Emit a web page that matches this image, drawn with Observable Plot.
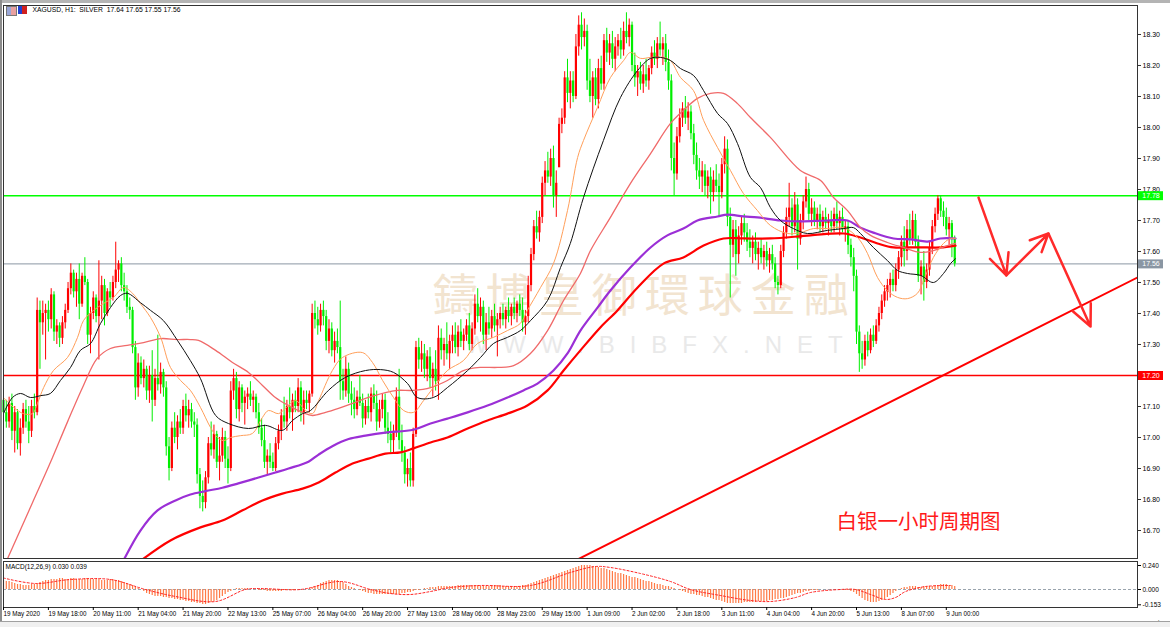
<!DOCTYPE html>
<html><head><meta charset="utf-8">
<script src="https://cdn.jsdelivr.net/npm/d3@7"></script>
<script src="https://cdn.jsdelivr.net/npm/@observablehq/plot@0.6"></script>
<style>
html,body{margin:0;padding:0;background:#fff}
#wrap{position:relative;width:1170px;height:627px;overflow:hidden;background:#fff;font-family:"Liberation Sans",Arial,sans-serif}
#main,#sub{position:absolute;left:0}
#main{top:0}
#sub{top:558px}
#topbar{position:absolute;left:0;top:0;width:1170px;height:3px;background:#b4b4b4}
#leftbar{position:absolute;left:0;top:0;width:2px;height:621px;background:#8c8c8c}
#tabs{position:absolute;left:0;top:621px;width:1170px;height:6px;background:#f0f0f0;border-top:1px solid #a0a0a0;box-sizing:border-box}
#ico1{position:absolute;left:6px;top:6px;width:9px;height:8px;background:linear-gradient(90deg,#9aa7d8 50%,#e9a0a0 50%);border:1px solid #777}
#ico2{position:absolute;left:18px;top:6px;width:9px;height:8px;background:linear-gradient(90deg,#2040d0 50%,#d02020 50%)}
</style></head>
<body><div id="wrap"><div id="main"></div><div id="sub"></div><div id="topbar"></div><div id="leftbar"></div><div id="tabs"></div><div id="ico1"></div><div id="ico2"></div></div>
<script>
// ---------- DATA ----------
const title = "XAGUSD, H1:  SILVER  17.64 17.65 17.55 17.56";
const macdTitle = "MACD(12,26,9) 0.030 0.039";
// hourly candles, cents: [open, high, low, close]
const candles = [
[1712,1716,1705,1708],[1708,1712,1703,1705],[1705,1713,1703,1711],[1711,1714,1699,1702],[1702,1710,1695,1708],
[1708,1709,1696,1698],[1698,1706,1694,1703],[1703,1711,1701,1709],[1709,1712,1703,1705],[1705,1710,1698,1702],
[1702,1712,1700,1710],[1710,1714,1706,1708],[1708,1745,1707,1741],[1741,1744,1722,1737],[1737,1744,1733,1740],
[1740,1743,1725,1741],[1741,1744,1734,1738],[1738,1748,1735,1746],[1746,1747,1731,1734],[1734,1738,1730,1736],
[1736,1737,1729,1732],[1732,1739,1730,1737],[1737,1743,1735,1741],[1741,1750,1740,1748],[1748,1756,1746,1753],
[1753,1754,1745,1747],[1747,1753,1742,1751],[1751,1756,1738,1743],[1743,1753,1742,1752],[1752,1758,1749,1750],
[1750,1751,1730,1733],[1733,1742,1727,1740],[1740,1747,1738,1745],[1745,1746,1737,1739],[1739,1757,1725,1744],
[1744,1752,1738,1749],[1749,1751,1736,1740],[1740,1748,1739,1747],[1747,1750,1742,1745],[1745,1752,1744,1750],
[1750,1763,1748,1754],[1754,1757,1750,1756],[1756,1758,1747,1749],[1749,1753,1744,1747],[1747,1749,1740,1742],
[1742,1745,1738,1741],[1741,1742,1727,1729],[1729,1731,1712,1716],[1716,1727,1713,1724],[1724,1726,1717,1719],
[1719,1725,1716,1722],[1722,1723,1712,1715],[1715,1723,1711,1720],[1720,1728,1705,1712],[1712,1722,1710,1719],
[1719,1733,1715,1717],[1717,1724,1714,1721],[1721,1722,1713,1716],[1716,1718,1694,1697],[1697,1700,1686,1690],
[1690,1705,1689,1703],[1703,1708,1698,1700],[1700,1707,1696,1705],[1705,1709,1701,1703],[1703,1712,1701,1710],
[1710,1714,1705,1707],[1707,1712,1703,1709],[1709,1711,1703,1705],[1705,1708,1700,1704],[1704,1706,1685,1688],
[1688,1690,1677,1681],[1681,1686,1676,1679],[1679,1689,1677,1687],[1687,1700,1685,1698],[1698,1705,1694,1696],
[1696,1704,1693,1701],[1701,1702,1690,1692],[1692,1700,1686,1694],[1694,1703,1692,1700],[1700,1702,1690,1693],
[1693,1697,1685,1690],[1690,1718,1689,1715],[1715,1722,1712,1719],[1719,1721,1706,1709],[1709,1718,1705,1716],
[1716,1717,1708,1711],[1711,1715,1704,1713],[1713,1716,1709,1714],[1714,1718,1710,1712],[1712,1715,1708,1713],
[1713,1714,1706,1708],[1708,1711,1701,1703],[1703,1706,1697,1699],[1699,1704,1690,1692],[1692,1696,1688,1694],
[1694,1698,1690,1692],[1692,1695,1689,1690],[1690,1700,1689,1698],[1698,1704,1696,1702],[1702,1709,1699,1707],
[1707,1713,1703,1705],[1705,1712,1702,1710],[1710,1716,1706,1708],[1708,1714,1702,1712],[1712,1715,1708,1710],
[1710,1719,1708,1716],[1716,1718,1705,1708],[1708,1715,1704,1712],[1712,1715,1709,1711],[1711,1715,1708,1714],
[1714,1743,1713,1740],[1740,1744,1735,1738],[1738,1742,1733,1736],[1736,1743,1734,1741],[1741,1744,1736,1739],
[1739,1741,1728,1731],[1731,1738,1727,1735],[1735,1737,1726,1728],[1728,1734,1724,1731],[1731,1735,1727,1729],
[1729,1744,1712,1718],[1718,1722,1712,1715],[1715,1726,1713,1722],[1722,1724,1711,1714],[1714,1718,1707,1712],
[1712,1716,1706,1709],[1709,1715,1707,1713],[1713,1720,1710,1711],[1711,1714,1703,1706],[1706,1712,1704,1710],
[1710,1714,1706,1708],[1708,1716,1705,1714],[1714,1717,1709,1711],[1711,1715,1702,1705],[1705,1712,1703,1709],
[1709,1714,1706,1712],[1712,1714,1701,1703],[1703,1708,1698,1701],[1701,1705,1695,1699],[1699,1704,1695,1702],
[1702,1716,1700,1713],[1713,1722,1696,1699],[1699,1704,1692,1695],[1695,1697,1685,1688],[1688,1693,1684,1690],
[1690,1695,1684,1686],[1686,1703,1684,1701],[1701,1731,1700,1729],[1729,1732,1722,1725],[1725,1731,1721,1727],
[1727,1730,1719,1722],[1722,1728,1718,1726],[1726,1729,1716,1719],[1719,1724,1713,1722],[1722,1728,1715,1718],
[1718,1736,1712,1732],[1732,1735,1725,1728],[1728,1732,1723,1730],[1730,1737,1725,1727],[1727,1733,1722,1731],
[1731,1736,1727,1733],[1733,1737,1727,1729],[1729,1736,1726,1734],[1734,1738,1729,1731],[1731,1735,1728,1733],
[1733,1738,1731,1736],[1736,1740,1728,1730],[1730,1737,1728,1735],[1735,1746,1733,1743],[1743,1748,1737,1739],
[1739,1745,1734,1742],[1742,1744,1730,1733],[1733,1740,1728,1737],[1737,1742,1733,1735],[1735,1741,1732,1739],
[1739,1743,1734,1736],[1736,1740,1726,1738],[1738,1742,1735,1740],[1740,1743,1736,1738],[1738,1742,1735,1741],
[1741,1745,1737,1739],[1739,1743,1736,1742],[1742,1745,1738,1740],[1740,1744,1737,1743],[1743,1746,1739,1741],
[1741,1745,1734,1737],[1737,1741,1733,1739],[1739,1752,1737,1749],[1749,1761,1747,1759],[1759,1770,1757,1768],
[1768,1773,1764,1766],[1766,1773,1763,1771],[1771,1784,1769,1782],[1782,1789,1778,1786],[1786,1792,1782,1784],
[1784,1793,1781,1790],[1790,1794,1774,1778],[1778,1786,1771,1782],[1787,1803,1794,1801],[1801,1806,1798,1803],
[1803,1818,1801,1816],[1816,1822,1808,1811],[1811,1818,1806,1815],[1815,1818,1808,1810],[1810,1830,1809,1826],
[1826,1836,1823,1833],[1833,1837,1825,1829],[1829,1835,1826,1831],[1831,1833,1812,1815],[1815,1822,1808,1810],
[1810,1818,1803,1816],[1816,1819,1807,1809],[1809,1822,1806,1819],[1819,1823,1812,1814],[1814,1830,1812,1828],
[1828,1832,1821,1824],[1824,1830,1820,1827],[1827,1831,1819,1822],[1822,1829,1818,1826],[1826,1830,1823,1828],
[1828,1832,1822,1825],[1825,1834,1823,1831],[1831,1837,1827,1829],[1829,1835,1826,1833],[1833,1834,1818,1820],
[1820,1824,1813,1816],[1816,1820,1810,1818],[1818,1821,1812,1814],[1814,1820,1811,1817],[1817,1822,1813,1815],
[1815,1820,1812,1819],[1819,1826,1817,1824],[1824,1828,1820,1822],[1822,1829,1819,1827],[1827,1834,1823,1825],
[1825,1829,1820,1827],[1827,1830,1818,1821],[1821,1825,1812,1815],[1815,1817,1786,1790],[1790,1795,1778,1785],
[1785,1800,1783,1797],[1797,1806,1795,1803],[1803,1808,1800,1806],[1806,1810,1801,1803],[1803,1808,1799,1805],
[1805,1807,1796,1798],[1798,1801,1788,1791],[1791,1795,1783,1786],[1786,1790,1780,1784],[1784,1789,1779,1786],
[1786,1788,1778,1781],[1781,1786,1777,1784],[1784,1787,1772,1779],[1779,1786,1776,1783],[1783,1788,1779,1781],
[1781,1785,1771,1779],[1779,1790,1777,1788],[1788,1797,1785,1793],[1793,1796,1768,1771],[1771,1774,1745,1762],
[1762,1770,1758,1767],[1767,1770,1752,1759],[1759,1768,1756,1765],[1765,1771,1762,1769],[1769,1772,1763,1766],
[1766,1769,1760,1763],[1763,1767,1758,1761],[1761,1765,1756,1763],[1763,1766,1757,1759],[1759,1763,1754,1761],
[1761,1764,1756,1758],[1758,1762,1754,1760],[1760,1763,1755,1757],[1757,1761,1753,1759],[1759,1762,1754,1756],
[1756,1758,1748,1750],[1750,1752,1746,1749],[1749,1762,1748,1760],[1760,1768,1758,1766],[1766,1774,1764,1771],
[1771,1782,1768,1774],[1774,1777,1765,1768],[1768,1779,1766,1775],[1775,1777,1754,1764],[1764,1772,1762,1770],
[1770,1778,1767,1776],[1776,1784,1774,1780],[1780,1782,1770,1772],[1772,1777,1768,1774],[1774,1776,1768,1770],
[1770,1774,1767,1772],[1772,1775,1766,1768],[1768,1773,1766,1771],[1771,1774,1767,1769],[1769,1772,1765,1770],
[1770,1773,1766,1768],[1768,1774,1766,1772],[1772,1776,1767,1769],[1769,1773,1765,1771],[1771,1774,1766,1767],
[1767,1770,1763,1768],[1768,1770,1759,1762],[1762,1764,1755,1758],[1758,1761,1747,1752],[1752,1754,1730,1734],
[1734,1736,1721,1727],[1727,1731,1722,1725],[1725,1733,1723,1731],[1731,1734,1726,1728],[1728,1735,1727,1733],
[1733,1736,1729,1731],[1731,1738,1730,1736],[1736,1742,1734,1740],[1740,1746,1738,1744],[1744,1749,1742,1747],
[1747,1751,1744,1749],[1749,1753,1745,1751],[1751,1754,1747,1749],[1749,1756,1747,1754],[1754,1760,1751,1758],
[1758,1765,1755,1763],[1763,1768,1755,1760],[1760,1770,1757,1767],[1767,1772,1762,1764],[1764,1773,1762,1770],
[1770,1772,1761,1763],[1763,1765,1750,1752],[1752,1757,1746,1755],[1755,1760,1744,1750],[1750,1756,1748,1754],
[1754,1763,1752,1761],[1761,1770,1759,1768],[1768,1774,1766,1772],[1772,1778,1770,1777],[1777,1778,1771,1773],
[1773,1776,1768,1771],[1771,1774,1765,1767],[1767,1771,1762,1769],[1769,1770,1758,1764],[1764,1765,1755,1756]
];
// moving averages: [bar index, price]
const maBlack = [[0,17.077],[3.2,17.129],[6.1,17.142],[9.6,17.129],[13.2,17.135],[16.7,17.142],[20.3,17.184],[23.9,17.226],[27.4,17.281],[31,17.303],[34.6,17.368],[38.1,17.419],[41.7,17.458],[44.2,17.465],[48.8,17.435],[52.4,17.41],[57,17.377],[62,17.313],[66.6,17.248],[70.2,17.19],[75.6,17.071],[80.2,17.045],[87.3,17.029],[93.4,17.039],[99.4,17.023],[103,17.055],[106.6,17.077],[109.4,17.087],[115.8,17.152],[121.9,17.194],[129,17.216],[134.4,17.219],[139,17.21],[144,17.174],[147.5,17.129],[153.2,17.129],[158.2,17.161],[165.4,17.216],[170,17.258],[174.6,17.303],[179.6,17.323],[184.2,17.345],[187.8,17.377],[193.9,17.442],[198.5,17.548],[202,17.626],[206.7,17.774],[213.8,17.958],[219.9,18.097],[226,18.184],[230.6,18.223],[234.1,18.226],[237.7,18.216],[241.3,18.19],[245.9,18.168],[249.5,18.119],[254.5,18.045],[258,18.013],[261.6,17.948],[266.2,17.839],[269.8,17.806],[273.3,17.742],[276.9,17.7],[281.5,17.674],[286.5,17.658],[293.6,17.668],[299.4,17.674],[302.9,17.677],[305.4,17.658],[310,17.613],[315,17.571],[318.6,17.539],[322.2,17.529],[326.8,17.523],[331.4,17.5],[335,17.529],[337.5,17.561],[339.3,17.577]];
const maOrange = [[0,17.129],[3.6,17.097],[7.1,17.077],[10.3,17.077],[12.1,17.11],[14.3,17.161],[17.8,17.216],[22.8,17.258],[26.4,17.323],[28.5,17.377],[32.1,17.41],[35.6,17.432],[39.2,17.452],[42.8,17.484],[46,17.465],[48.8,17.432],[52.4,17.387],[56,17.323],[59.5,17.226],[63.1,17.184],[66.6,17.152],[70.2,17.097],[73.8,17.032],[76.3,17.0],[78.4,16.99],[80.9,17.0],[84.5,17.006],[88.7,17.013],[92.3,17.065],[94.4,17.087],[98,17.077],[100.5,17.094],[104.1,17.119],[107.6,17.087],[110.1,17.077],[112.3,17.119],[117.2,17.216],[120.8,17.258],[127.9,17.274],[131.5,17.242],[135.1,17.184],[139,17.129],[142.6,17.087],[146.1,17.081],[149.7,17.119],[153.2,17.161],[158.2,17.216],[163.9,17.248],[168.9,17.303],[174.6,17.323],[179.6,17.345],[184.2,17.368],[186.7,17.41],[191.4,17.484],[196,17.561],[201,17.732],[204.6,17.903],[206.7,17.958],[211.7,18.065],[216.3,18.161],[221,18.216],[223.4,18.242],[227,18.223],[230.6,18.226],[235.2,18.226],[237.7,18.216],[241.3,18.161],[245.9,18.119],[249.5,18.023],[254.5,17.935],[259.1,17.861],[263.7,17.787],[268.7,17.732],[273.3,17.684],[279.4,17.658],[284,17.661],[288.7,17.674],[293.6,17.674],[299.4,17.677],[304.4,17.645],[307.9,17.594],[311.5,17.516],[315,17.474],[318.6,17.452],[322.2,17.448],[325.7,17.465],[327.9,17.506],[331.4,17.581],[335,17.626],[337.5,17.642],[339.3,17.642]];
const maThinRed = [[0,16.58],[10.2,16.787],[16.7,16.919],[22.7,17.048],[28.5,17.168],[33.4,17.255],[38.1,17.287],[44.1,17.297],[49.9,17.306],[56,17.319],[61.9,17.316],[66.6,17.316],[69.5,17.313],[75.6,17.281],[81.6,17.242],[87.3,17.21],[92.3,17.168],[96.9,17.129],[101.6,17.103],[106.6,17.081],[110.1,17.071],[114.8,17.081],[119.4,17.094],[124.4,17.11],[129,17.126],[136.1,17.145],[140.4,17.152],[146.1,17.152],[152.2,17.161],[158.2,17.184],[163.9,17.216],[170,17.226],[176,17.226],[181.8,17.232],[187.8,17.271],[193.9,17.345],[199.6,17.442],[205.6,17.529],[209.2,17.603],[216.3,17.71],[223.4,17.819],[230.6,17.916],[237.7,18.013],[242.3,18.055],[247.3,18.094],[252,18.11],[256.6,18.11],[261.6,18.077],[266.2,18.032],[273.3,17.968],[284,17.861],[291.2,17.829],[295.8,17.774],[300.8,17.732],[305.4,17.677],[309,17.652],[315,17.629],[320.7,17.613],[326.8,17.597],[331.4,17.603],[336.4,17.619],[339.3,17.626]];
const maPurple = [[42.4,16.597],[48.8,16.7],[54.9,16.765],[61.3,16.797],[66.6,16.816],[72,16.827],[78,16.838],[83.7,16.852],[90.9,16.871],[96.9,16.887],[101.6,16.9],[108.7,16.922],[112.3,16.945],[117.2,16.972],[123,16.995],[129,17.006],[136.1,17.016],[146.1,17.025],[152.2,17.045],[158.2,17.061],[165.4,17.081],[172.5,17.103],[179.6,17.129],[185.3,17.152],[190.3,17.174],[196,17.216],[201,17.271],[205.6,17.345],[211.7,17.419],[216.3,17.474],[223.4,17.548],[230.6,17.613],[236.6,17.652],[242.3,17.674],[247.3,17.7],[254.5,17.713],[258,17.719],[263.7,17.713],[268.7,17.71],[276.9,17.7],[284,17.697],[293.6,17.7],[300.8,17.7],[305.4,17.677],[310,17.661],[317.2,17.642],[323.2,17.639],[329.3,17.632],[333.9,17.642],[339.3,17.642]];
const maThickRed = [[48.1,16.597],[59.5,16.668],[70.2,16.71],[78,16.732],[85.2,16.765],[92.3,16.797],[99.4,16.819],[106.6,16.835],[112.3,16.855],[118.3,16.887],[124.4,16.916],[130.1,16.932],[136.1,16.948],[141.5,16.952],[146.1,16.965],[152.2,16.984],[158.2,17.0],[165.4,17.029],[172.5,17.055],[179.6,17.077],[186.7,17.103],[193.9,17.152],[199.6,17.216],[205.6,17.281],[212.7,17.355],[218.8,17.41],[226,17.484],[235.2,17.561],[242.3,17.581],[249.5,17.619],[256.6,17.642],[263.7,17.642],[273.3,17.642],[287.6,17.652],[299.4,17.658],[305.4,17.645],[311.5,17.626],[317.2,17.613],[323.2,17.613],[329.3,17.613],[333.9,17.613],[339.3,17.619]];
// horizontal levels
const levelPrices = [17.78, 17.56, 17.20];
const levelLabels = ["17.78", "17.56", "17.20"];
// hand drawn trend line and arrows (bar index, price)
const trendBars = [203.8, 404.1];
const trendPrices = [16.603, 17.516];
const arrowBars = [347.5, 357.4, 372.4, 387.4];
const arrowPrices = [17.774, 17.523, 17.658, 17.358];
const caption = "白银一小时周期图";
const captionAt = [296.9, 16.726];
const watermark = "鑄博皇御環球金融";
const watermarkAt = [228.5, 17.45];
const watermarkUrl = "WWW.BIBFX.NET";
const watermarkUrlAt = [234.5, 17.297];
// price axis
const yTicks = [16.7,16.8,16.9,17.0,17.1,17.2,17.3,17.4,17.5,17.6,17.7,17.8,17.9,18.0,18.1,18.2,18.3];
// time axis
const xTickBars = [0,16,32,48,64,80,96,112,128,144,160,176,192,208,224,240,256,272,288,304,320,336];
const xTickLabels = ["19 May 2020","19 May 18:00","20 May 11:00","21 May 04:00","21 May 20:00","22 May 13:00","25 May 07:00","26 May 04:00","26 May 20:00","27 May 13:00","28 May 06:00","28 May 23:00","29 May 15:00","1 Jun 09:00","2 Jun 02:00","2 Jun 18:00","3 Jun 11:00","4 Jun 04:00","4 Jun 20:00","5 Jun 13:00","8 Jun 07:00","9 Jun 00:00"];
// MACD main (hundredths), one per bar
const macdMain = [
9,8,8,7,6,5,5,4,4,4,5,5,6,7,
8,9,9,10,10,10,11,11,10,10,11,11,10,10,10,11,11,10,10,10,10,9,9,9,10,10,9,
9,8,7,6,5,4,2,1,
0,-2,-4,-5,-6,-7,-7,-7,-8,-8,-9,-9,-10,-10,-11,-11,-12,-12,-13,-13,-14,-14,-15,-15,-14,-13,-12,-11,-9,-7,-5,-3,-2,
0,1,1,1,1,1,0,0,0,-1,
-1,-1,-2,-2,-2,-2,-2,-2,-1,-1,-1,-1,-1,0,0,0,0,
1,2,3,4,6,7,8,9,9,9,9,8,7,5,3,
2,1,0,-1,-2,
-3,-4,-4,-5,-5,-5,-5,-5,-5,-5,-5,-5,-5,-4,-4,-3,-3,-2,-1,-1,0,
1,1,2,2,2,3,3,3,3,3,3,3,4,4,4,4,4,4,4,4,3,3,3,3,4,4,4,4,3,3,3,3,3,3,3,4,4,5,6,
7,8,9,10,11,12,13,14,15,16,17,18,19,20,21,22,23,24,24,
24,24,23,23,22,21,21,20,19,18,17,16,16,15,14,13,12,12,11,10,9,8,8,7,6,5,5,4,3,3,2,1,
0,-1,-2,-3,-4,-5,-5,-6,-6,-7,-8,-8,-9,-10,-11,-11,-12,-13,-14,-14,-14,-14,-14,-14,-13,-13,-13,-13,-13,-12,-12,-12,-12,-11,-11,-10,-10,-9,-9,-8,-7,-6,-5,-4,-4,-3,-2,
-2,-1,-1,-1,0,0,0,0,0,0,0,0,0,-1,-1,-2,-3,-5,
-7,-9,-11,-12,-13,-13,-13,-12,-11,-10,-8,-6,-4,-2,0,
1,2,2,3,3,3,2,2,3,3,3,3,4,4,5,5,5,4,4,3
];
const macdSignal = [[0,0.115],[11.4,0.06],[23.9,0.10],[38.1,0.10],[50.6,0.0],[61.3,-0.07],[75.6,-0.12],[86.2,0.0],[91.6,0.01],[105.8,0.0],[120.1,0.08],[130.8,0.0],[137.9,-0.04],[145,-0.05],[152.2,-0.02],[159.3,0.02],[170,0.04],[187.8,0.04],[202,0.17],[211,0.23],[216.3,0.22],[227,0.16],[237.7,0.08],[244.8,0.0],[255.5,-0.06],[266.2,-0.11],[273.3,-0.12],[282.3,-0.08],[287.6,-0.03],[298.3,0.0],[303.6,0.0],[309,-0.05],[314.3,-0.1],[317.9,-0.08],[321.5,-0.02],[328.6,0.03],[337.5,0.04]];
const macdTicks = [0.24, 0, -0.153];

// ---------- CHART ----------
const UP = "#ff0000", DOWN = "#00ee00";
const X_MAX = 404.14;
const PX = (X_MAX) / (1137 - 3); // bar units per pixel
const bars = candles.map(([o,h,l,c], i) => ({i, o:o/100, h:h/100, l:l/100, c:c/100, up: c >= o}));
const pt = a => a.map(d => ({i:d[0], p:d[1]}));
const levels = levelPrices.map((p,k) => ({p, label: levelLabels[k], k}));
const levelColor = ["#00ff00", "#8a96a3", "#ff0000"];
const levelWidth = [1.6, 1, 1.6];
const arrowsSeg = [0,1,2].map(k => ({x1:arrowBars[k], y1:arrowPrices[k], x2:arrowBars[k+1], y2:arrowPrices[k+1]}));
const FONT = "Liberation Sans, Arial, sans-serif";

const main = Plot.plot({
  width: 1170, height: 558,
  marginTop: 5, marginLeft: 3, marginRight: 33, marginBottom: 0,
  x: {domain: [0, X_MAX], axis: null},
  y: {domain: [16.6097, 18.3935], axis: null},
  style: {background: "transparent", fontFamily: FONT, overflow: "visible"},
  marks: [
    Plot.text([watermark], {x: watermarkAt[0], y: watermarkAt[1], text: d => d, fill: "#f2e4d0", fontSize: 45, fontFamily: "Noto Sans CJK TC", textAnchor: "middle"}),
    Plot.text([watermarkUrl], {x: watermarkUrlAt[0], y: watermarkUrlAt[1], text: d => d, fill: "#e9e9e9", fontSize: 24, fontFamily: FONT, textAnchor: "middle"}),
    Plot.ruleY(levels, {y: "p", stroke: d => levelColor[d.k], strokeWidth: d => levelWidth[d.k]}),
    Plot.ruleX(bars, {x: "i", y1: "l", y2: "h", stroke: d => d.up ? UP : DOWN, strokeWidth: 1}),
    Plot.ruleX(bars, {x: "i", y1: "o", y2: "c", stroke: d => d.up ? UP : DOWN, strokeWidth: 2.2}),
    Plot.line(pt(maThickRed), {x: "i", y: "p", stroke: "#ff0000", strokeWidth: 2.2, curve: "catmull-rom", clip: true}),
    Plot.line(pt(maPurple), {x: "i", y: "p", stroke: "#9b2fd6", strokeWidth: 2.2, curve: "catmull-rom", clip: true}),
    Plot.line(pt(maThinRed), {x: "i", y: "p", stroke: "#f06a6a", strokeWidth: 1.3, curve: "catmull-rom", clip: true}),
    Plot.line(pt(maOrange), {x: "i", y: "p", stroke: "#ff9f5a", strokeWidth: 1, curve: "catmull-rom", clip: true}),
    Plot.line(pt(maBlack), {x: "i", y: "p", stroke: "#111", strokeWidth: 1, curve: "catmull-rom", clip: true}),
    Plot.line(trendBars.map((b,k) => ({i: b, p: trendPrices[k]})), {x: "i", y: "p", stroke: "#ff0000", strokeWidth: 2, clip: true}),
    Plot.arrow(arrowsSeg, {x1: "x1", y1: "y1", x2: "x2", y2: "y2", stroke: "#ff2a2a", strokeWidth: 2.5, headLength: 14, headAngle: 50}),
    Plot.text([caption], {x: captionAt[0], y: captionAt[1], text: d => d, fill: "#ff1a1a", fontSize: 20.5, fontFamily: "Noto Sans CJK SC", textAnchor: "start"}),
    Plot.text([title], {frameAnchor: "top-left", text: d => d, dx: 29, dy: 2, fontSize: 6.8, fill: "#000"}),
    Plot.frame({stroke: "#333", strokeWidth: 1}),
    Plot.axisY({anchor: "right", ticks: yTicks, tickFormat: d => d.toFixed(2), tickSize: 3, tickPadding: 2, fontSize: 7, stroke: "#333"}),
    Plot.ruleY(levels, {y: "p", x1: X_MAX + 1 * PX, x2: X_MAX + 26 * PX, stroke: d => levelColor[d.k], strokeWidth: 9}),
    Plot.text(levels, {y: "p", x: X_MAX, dx: 13.5, text: "label", fill: "#fff", fontSize: 7, textAnchor: "middle"})
  ]
});
document.getElementById("main").appendChild(main);

const macd = macdMain.map((v, i) => ({i, v: v / 100}));
const sub = Plot.plot({
  width: 1170, height: 69,
  marginTop: 3, marginLeft: 3, marginRight: 33, marginBottom: 20,
  x: {domain: [0, X_MAX], axis: null},
  y: {domain: [-0.18, 0.28], axis: null},
  style: {background: "transparent", fontFamily: FONT, overflow: "visible"},
  marks: [
    Plot.ruleY([0], {stroke: "#9aa4ad", strokeDasharray: "3,2"}),
    Plot.ruleX(macd, {x: "i", y1: 0, y2: "v", stroke: "#ff7a45", strokeWidth: 1.2}),
    Plot.line(pt(macdSignal), {x: "i", y: "p", stroke: "#ff2020", strokeWidth: 1, strokeDasharray: "2,2", curve: "catmull-rom"}),
    Plot.text([macdTitle], {frameAnchor: "top-left", text: d => d, dx: 2, dy: 3, fontSize: 6.5, fill: "#000"}),
    Plot.frame({stroke: "#333", strokeWidth: 1}),
    Plot.axisY({anchor: "right", ticks: macdTicks, tickFormat: d => d.toFixed(3), tickSize: 3, tickPadding: 2, fontSize: 6.5}),
    Plot.axisX({anchor: "bottom", ticks: xTickBars, tickFormat: d => xTickLabels[xTickBars.indexOf(d)], tickSize: 3, tickPadding: 1, textAnchor: "start", fontSize: 6.3})
  ]
});
document.getElementById("sub").appendChild(sub);

// letter spacing for watermark texts
d3.select(main).selectAll("text").each(function() {
  const t = this.textContent;
  if (t === watermark) d3.select(this).attr("letter-spacing", 8);
  if (t === watermarkUrl) d3.select(this).attr("letter-spacing", 15);
});
</script>
</body></html>
